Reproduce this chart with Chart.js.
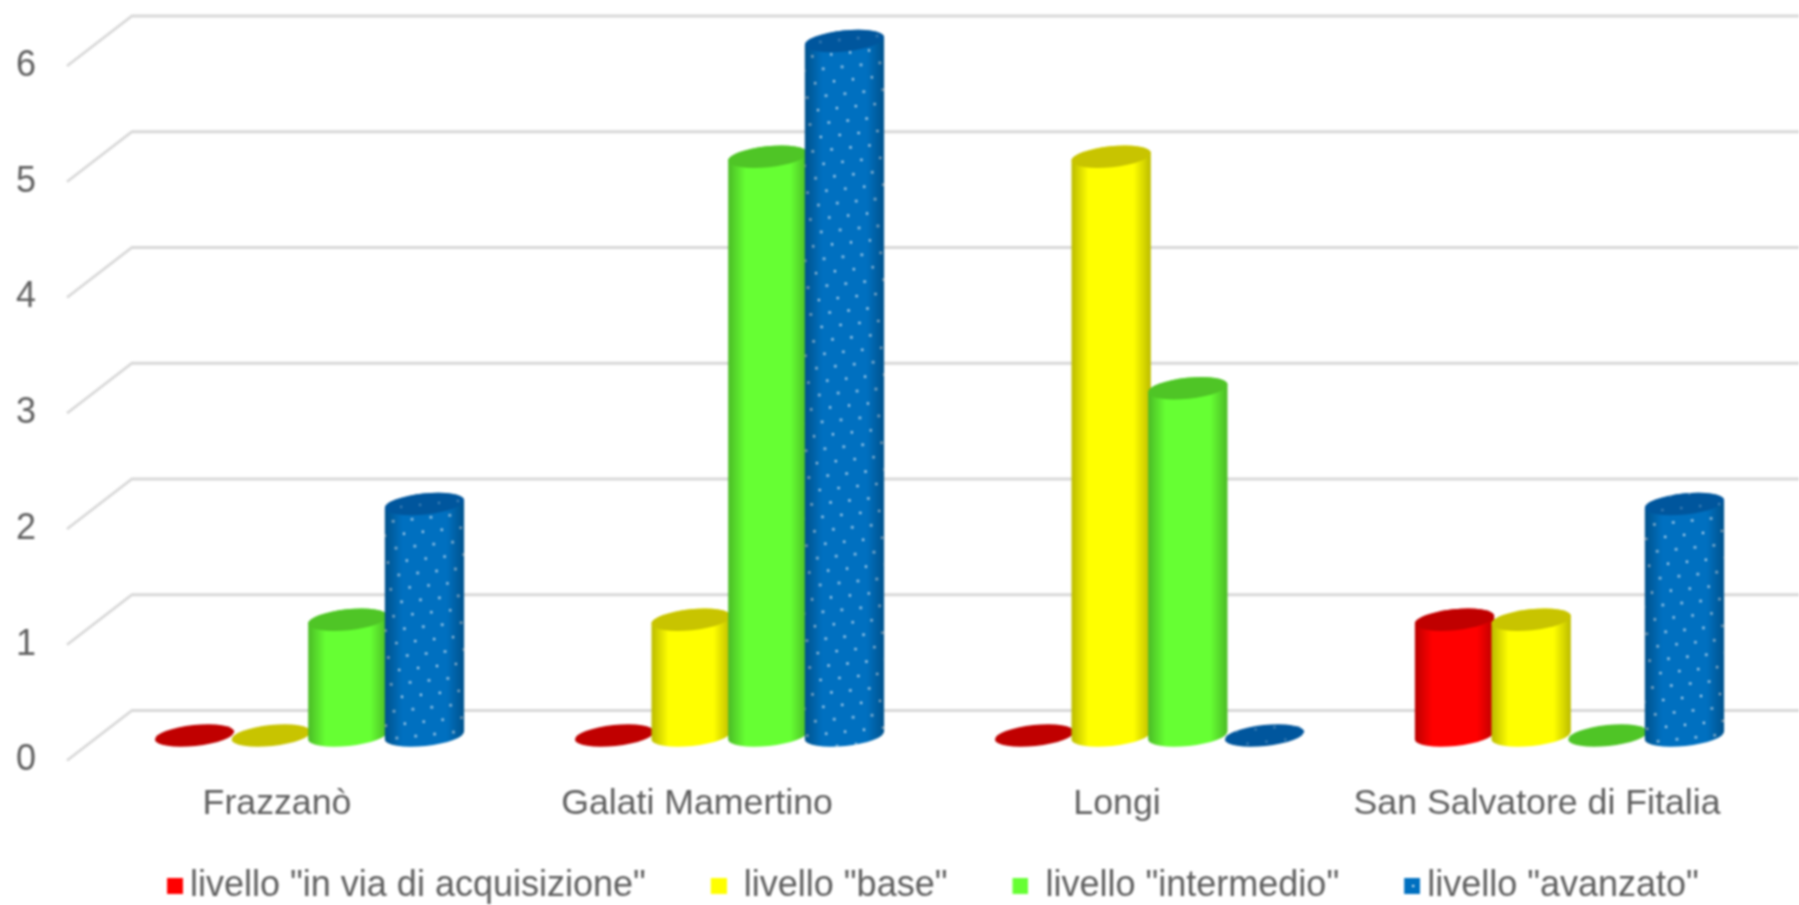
<!DOCTYPE html>
<html>
<head>
<meta charset="utf-8">
<style>
html,body{margin:0;padding:0;background:#fff;overflow:hidden}
canvas{display:block;filter:blur(0.9px)}
</style>
<script src="https://cdn.jsdelivr.net/npm/chart.js@4"></script>
</head>
<body>
<canvas id="c" width="1799" height="905"></canvas>
<script>
const categories = ['Frazzanò', 'Galati Mamertino', 'Longi', 'San Salvatore di Fitalia'];
const seriesNames = ['livello "in via di acquisizione"', ' livello "base"', ' livello "intermedio"', 'livello "avanzato"'];
const inViaDiAcquisizione = [0, 0, 0, 1];
const base = [0, 1, 5, 1];
const intermedio = [1, 5, 3, 0];
const avanzato = [2, 6, 0, 2];
const yTicks = [0, 1, 2, 3, 4, 5, 6];
const bodyColors = ['#ff0000', '#ffff00', '#66ff33', '#0070c0'];
const topColors = ['#c00000', '#c8c400', '#4fc526', '#00569d'];
const dotted = [false, false, false, true];

const DEPTH_X = 65, DEPTH_Y = 50, RY = 10.5, ROT = -6 * Math.PI / 180, TEXT = '#5f5f5f', FONT = 'Liberation Sans';

function dotPattern(ctx) {
  const t = document.createElement('canvas');
  t.width = 19; t.height = 27;
  const g = t.getContext('2d');
  g.fillStyle = 'rgba(255,255,255,0.85)';
  [[4, 6], [13.5, 19.5]].forEach(([x, y]) => { g.beginPath(); g.arc(x, y, 1.2, 0, 7); g.fill(); });
  const p = ctx.createPattern(t, 'repeat');
  p.setTransform(new DOMMatrix().rotate(-6));
  return p;
}
function marker(color, dot) {
  const m = document.createElement('canvas');
  m.width = 22; m.height = 16;
  const g = m.getContext('2d');
  g.fillStyle = color; g.fillRect(6, 0, 16, 16);
  if (dot) { g.fillStyle = '#fff'; g.fillRect(14, 7, 2, 2); }
  return m;
}

const cylinderPlugin = {
  id: 'cylinders',
  afterLayout(chart) {
    const l = chart.legend;
    l.left = 102; l.right = 2100; l.top = 798;
  },
  beforeDatasetsDraw(chart) {
    const ctx = chart.ctx, area = chart.chartArea, y = chart.scales.y;
    ctx.save();
    ctx.strokeStyle = '#d8d8d8';
    ctx.lineWidth = 2.8;
    y.ticks.forEach(t => {
      const py = y.getPixelForValue(t.value);
      ctx.beginPath();
      ctx.moveTo(area.left, py);
      ctx.lineTo(area.left + DEPTH_X, py - DEPTH_Y);
      ctx.lineTo(chart.width, py - DEPTH_Y);
      ctx.stroke();
    });
    const pattern = dotPattern(ctx);
    chart.data.datasets.forEach((ds, i) => {
      chart.getDatasetMeta(i).data.forEach(bar => {
        const cx = bar.x + DEPTH_X / 2, rx = bar.width / 2 + 1.5;
        const yT = bar.y - DEPTH_Y / 2, yB = bar.base - DEPTH_Y / 2;
        if (yB - yT > 0.5) {
          ctx.beginPath();
          ctx.ellipse(cx, yB, rx, RY, ROT, 0, Math.PI);
          ctx.ellipse(cx, yT, rx, RY, ROT, Math.PI, 2 * Math.PI);
          ctx.closePath();
          ctx.fillStyle = bodyColors[i]; ctx.fill();
          if (dotted[i]) { ctx.fillStyle = pattern; ctx.fill(); }
          const g = ctx.createLinearGradient(cx - rx, 0, cx + rx, 0);
          g.addColorStop(0, 'rgba(0,0,0,0.27)');
          g.addColorStop(0.22, 'rgba(0,0,0,0)');
          g.addColorStop(0.78, 'rgba(0,0,0,0)');
          g.addColorStop(1, 'rgba(0,0,0,0.27)');
          ctx.fillStyle = g; ctx.fill();
        }
        ctx.beginPath();
        ctx.ellipse(cx, yT, rx, RY, ROT, 0, 2 * Math.PI);
        ctx.fillStyle = topColors[i]; ctx.fill();
        if (dotted[i]) { ctx.fillStyle = pattern; ctx.globalAlpha = 0.35; ctx.fill(); ctx.globalAlpha = 1; }
      });
    });
    ctx.restore();
    return false;
  }
};

const seriesValues = [inViaDiAcquisizione, base, intermedio, avanzato];
new Chart(document.getElementById('c'), {
  type: 'bar',
  data: {
    labels: categories,
    datasets: seriesValues.map((values, i) => ({
      label: seriesNames[i],
      data: values,
      backgroundColor: bodyColors[i],
      borderWidth: 0,
      categoryPercentage: 0.73,
      barPercentage: 1
    }))
  },
  plugins: [cylinderPlugin],
  options: {
    responsive: false,
    animation: false,
    devicePixelRatio: 1,
    layout: { padding: { left: 0, top: 66, right: 52, bottom: -69 } },
    scales: {
      x: {
        grid: { display: false, drawTicks: false },
        border: { display: false },
        afterFit(s) { s.height = 97.5; },
        ticks: { autoSkip: false, maxRotation: 0, padding: 22, color: TEXT, font: { family: FONT, size: 35.7 } }
      },
      y: {
        min: 0, max: 6,
        grid: { display: false, drawTicks: false },
        border: { display: false },
        afterFit(s) { s.width = 67; },
        afterBuildTicks(s) { s.ticks = yTicks.map(v => ({ value: v })); },
        ticks: { padding: 31, color: TEXT, font: { family: FONT, size: 36 } }
      }
    },
    plugins: {
      tooltip: { enabled: false },
      legend: {
        position: 'bottom',
        align: 'start',
        labels: {
          usePointStyle: true,
          boxWidth: 0.01,
          boxHeight: 16,
          padding: 70,
          color: TEXT,
          font: { family: FONT, size: 36 },
          generateLabels(chart) {
            const items = Chart.defaults.plugins.legend.labels.generateLabels(chart);
            items.forEach((it, i) => { it.pointStyle = marker(bodyColors[i], dotted[i]); });
            return items;
          }
        }
      }
    }
  }
});
</script>
</body>
</html>
